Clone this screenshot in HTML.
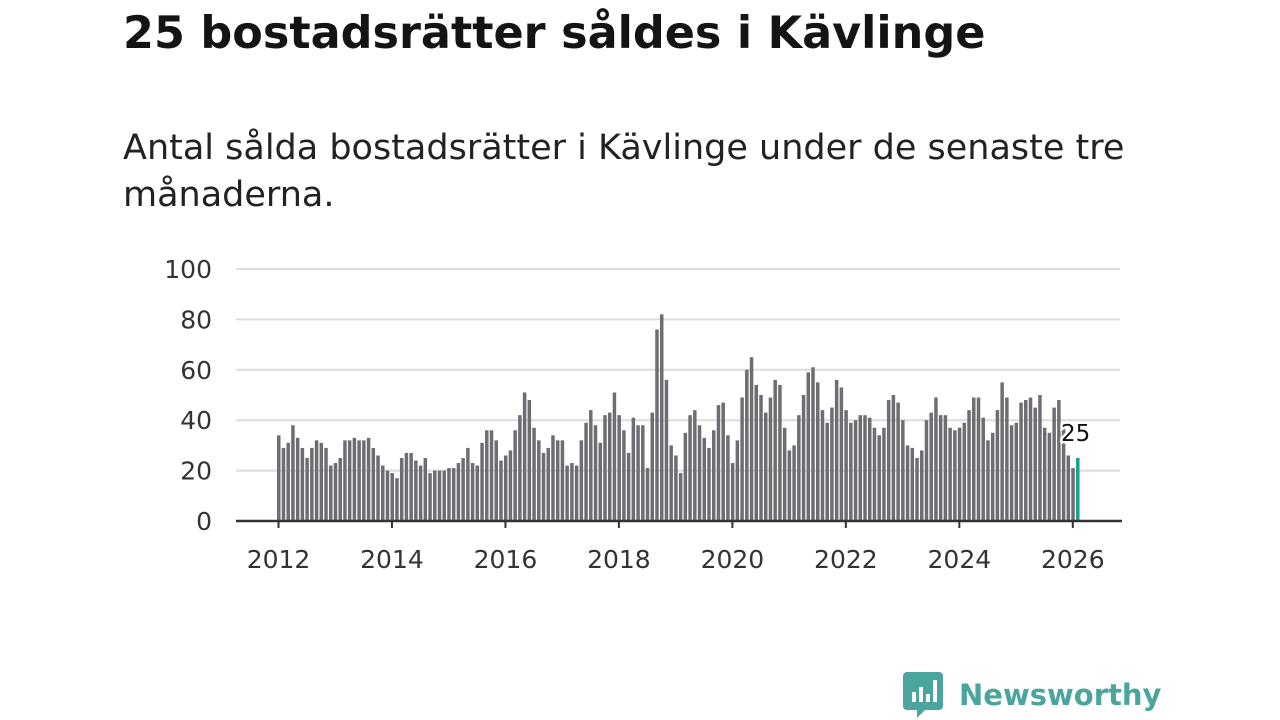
<!DOCTYPE html>
<html><head><meta charset="utf-8"><style>
body{margin:0;width:1280px;height:720px;background:#fff;font-family:"DejaVu Sans","Liberation Sans",sans-serif;position:relative;overflow:hidden}
h1{position:absolute;left:123px;top:8px;margin:0;font-size:44.5px;font-weight:bold;color:#141414;white-space:nowrap}
.sub{position:absolute;left:123px;top:125px;width:1060px;font-size:35px;line-height:47px;color:#222}
svg{position:absolute;left:0;top:0}
.logo{position:absolute;left:903px;top:672px;display:flex;align-items:center;font-size:29px;font-weight:bold;color:#4aa59d}
</style></head><body>
<h1>25 bostadsrätter såldes i Kävlinge</h1>
<div class="sub">Antal sålda bostadsrätter i Kävlinge under de senaste tre månaderna.</div>
<svg id="chart" width="1280" height="720"></svg>
<div class="logo">
<svg width="40" height="46" style="position:static;margin-right:16px" viewBox="0 0 40 46"><path d="M4 0h32a4 4 0 0 1 4 4v30a4 4 0 0 1-4 4H22l-8 8v-8H4a4 4 0 0 1-4-4V4a4 4 0 0 1 4-4z" fill="#4aa59d"/><rect x="9" y="20" width="4" height="10" fill="#fff"/><rect x="16" y="15" width="4" height="15" fill="#fff"/><rect x="23" y="22" width="4" height="8" fill="#fff"/><rect x="30" y="8" width="4" height="22" fill="#fff"/></svg>Newsworthy</div>
<script>
const values=[34,29,31,38,33,29,25,29,32,31,29,22,
23,25,32,32,33,32,32,33,29,26,22,20,
19,17,25,27,27,24,22,25,19,20,20,20,
21,21,23,25,29,23,22,31,36,36,32,24,
26,28,36,42,51,48,37,32,27,29,34,32,
32,22,23,22,32,39,44,38,31,42,43,51,
42,36,27,41,38,38,21,43,76,82,56,30,
26,19,35,42,44,38,33,29,36,46,47,34,
23,32,49,60,65,54,50,43,49,56,54,37,
28,30,42,50,59,61,55,44,39,45,56,53,
44,39,40,42,42,41,37,34,37,48,50,47,
40,30,29,25,28,40,43,49,42,42,37,36,
37,39,44,49,49,41,32,35,44,55,49,38,
39,47,48,49,45,50,37,35,45,48,37,26,
21,25];
const yTicks=[0,20,40,60,80,100];
const xTicks=[2012,2014,2016,2018,2020,2022,2024,2026];
const NS="http://www.w3.org/2000/svg";
const svg=document.getElementById('chart');
const y=v=>521-v*2.52;
const xm=i=>277+i*4.728;
const xy=yr=>278.5+(yr-2012)*12*4.728;
function mk(t,a){const e=document.createElementNS(NS,t);for(const k in a)e.setAttribute(k,a[k]);svg.appendChild(e);return e;}
yTicks.forEach(t=>{
 if(t>0){const l=mk('line',{x1:236,x2:1120,y1:y(t),y2:y(t),stroke:'#dcdcdc','stroke-width':2});
 
 }
 const tx=mk('text',{x:212,y:y(t)+9,'text-anchor':'end','font-size':25,fill:'#333'});tx.textContent=t;
 
 
});
values.forEach((v,i)=>{
 const last=i===values.length-1;
 const r=mk('rect',{x:xm(i),y:y(v),width:3.5,height:v*2.52,fill:last?'#1a9e93':'#6e6d73'});
 
 
});
const ax=mk('line',{x1:236,x2:1122,y1:521,y2:521,stroke:'#333','stroke-width':2.5});


xTicks.forEach(t=>{
 mk('line',{x1:xy(t),x2:xy(t),y1:521,y2:528,stroke:'#333','stroke-width':2});
 const tx=mk('text',{x:xy(t),y:568,'text-anchor':'middle','font-size':25,fill:'#333'});tx.textContent=t;
 
 
});
const li=values.length-1;
const lb=mk('text',{x:xm(li)-15,y:y(values[li])-17,'font-size':23,fill:'#111',stroke:'#fff','stroke-width':5,'paint-order':'stroke'});
lb.textContent=values[li];


</script>
</body></html>
